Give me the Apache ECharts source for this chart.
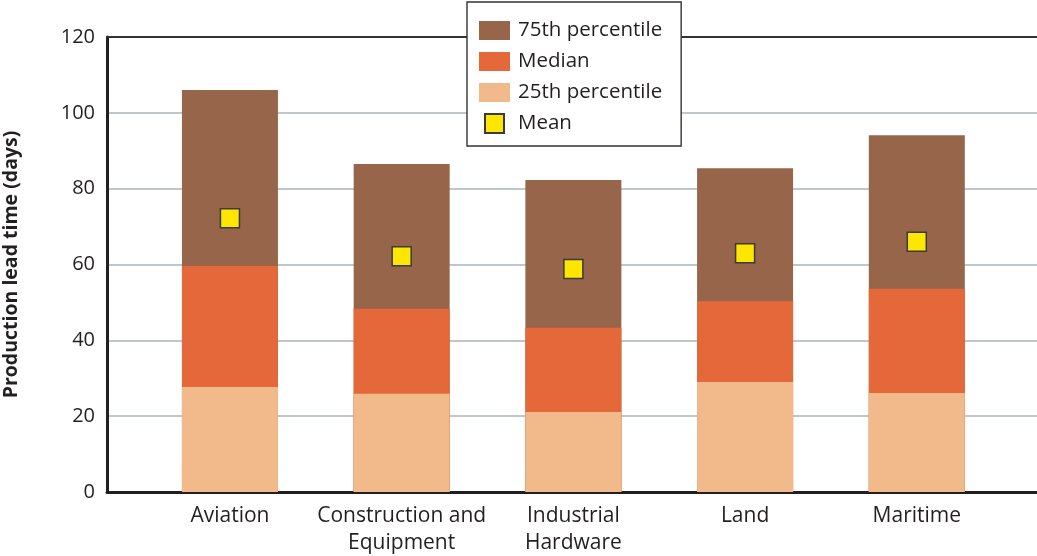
<!DOCTYPE html>
<html>
<head>
<meta charset="utf-8">
<script src="https://cdn.jsdelivr.net/npm/echarts@6/dist/echarts.min.js"></script>
<style>
html,body{margin:0;padding:0;background:#fff;}
#chart{width:1037px;height:556px;}
</style>
</head>
<body>
<div id="chart"></div>
<script>
var categories = ['Aviation', 'Construction and\nEquipment', 'Industrial\nHardware', 'Land', 'Maritime'];
var p75 = [106, 86.5, 82.3, 85.4, 94.1];
var median = [59.6, 48.3, 43.3, 50.3, 53.6];
var p25 = [27.7, 25.9, 21.1, 29.0, 26.1];
var mean = [72.2, 62.2, 58.8, 63.0, 66.0];
var yTicks = [0, 20, 40, 60, 80, 100, 120];

function pts(arr) { return arr.map(function (v, i) { return [i, v]; }); }

var font = '"Open Sans", "Noto Sans", sans-serif';
var textColor = '#231f20';
var chart = echarts.init(document.getElementById('chart'), null, {renderer: 'canvas'});
chart.setOption({
  animation: false,
  textStyle: {fontFamily: font},
  grid: {left: 107, right: 0, top: 37, bottom: 64, containLabel: false, outerBoundsMode: 'none'},
  legend: {
    orient: 'vertical',
    left: 467, top: 2,
    padding: [18, 19, 12, 11],
    itemGap: 10,
    itemWidth: 31, itemHeight: 19,
    borderColor: '#333', borderWidth: 1.4,
    backgroundColor: '#fff',
    textStyle: {fontFamily: font, fontSize: 20.5, color: textColor, padding: [0, 0, 0, 3]},
    data: [
      {name: '75th percentile', icon: 'rect'},
      {name: 'Median', icon: 'rect'},
      {name: '25th percentile', icon: 'rect'},
      {name: 'Mean', icon: 'path://M0,0M31,19M6,0h19v19h-19z'}
    ]
  },
  xAxis: [{
    type: 'value',
    min: -0.716, max: 4.7,
    position: 'bottom',
    splitLine: {show: false},
    axisTick: {show: false},
    axisLine: {show: true, onZero: false, lineStyle: {color: textColor, width: 3}},
    axisLabel: {
      customValues: [0, 1, 2, 3, 4],
      formatter: function (v) { return categories[Math.round(v)] || ''; },
      fontSize: 21, color: textColor, margin: 11, lineHeight: 27, fontFamily: font
    }
  }, {
    type: 'value',
    min: -0.716, max: 4.7,
    position: 'top',
    splitLine: {show: false},
    axisTick: {show: false},
    axisLabel: {show: false},
    axisLine: {show: true, onZero: false, lineStyle: {color: '#333', width: 2}}
  }],
  yAxis: {
    type: 'value',
    min: yTicks[0], max: yTicks[yTicks.length - 1], interval: 20,
    name: 'Production lead time (days)',
    nameLocation: 'middle',
    nameRotate: 90,
    nameGap: 86,
    nameTextStyle: {fontSize: 19.5, fontWeight: 'bold', color: textColor, fontFamily: font},
    axisLine: {show: true, onZero: false, lineStyle: {color: textColor, width: 3}},
    axisTick: {show: false},
    axisLabel: {fontSize: 20, color: textColor, margin: 12, fontFamily: font},
    splitLine: {show: true, lineStyle: {color: '#a9b4bc', width: 1.5}}
  },
  series: [
    {name: '75th percentile', type: 'bar', data: pts(p75), barWidth: 96, barGap: '-100%',
     itemStyle: {color: '#96654a'}, z: 2},
    {name: 'Median', type: 'bar', data: pts(median), barWidth: 96, barGap: '-100%',
     itemStyle: {color: '#e4683a'}, z: 3},
    {name: '25th percentile', type: 'bar', data: pts(p25), barWidth: 96, barGap: '-100%',
     itemStyle: {color: '#f2b98b'}, z: 4},
    {name: 'Mean', type: 'scatter', data: pts(mean), symbol: 'rect', symbolSize: 19,
     itemStyle: {color: '#ffe600', borderColor: '#3a3a3a', borderWidth: 1.5, opacity: 1}, z: 5}
  ]
});
</script>
</body>
</html>
